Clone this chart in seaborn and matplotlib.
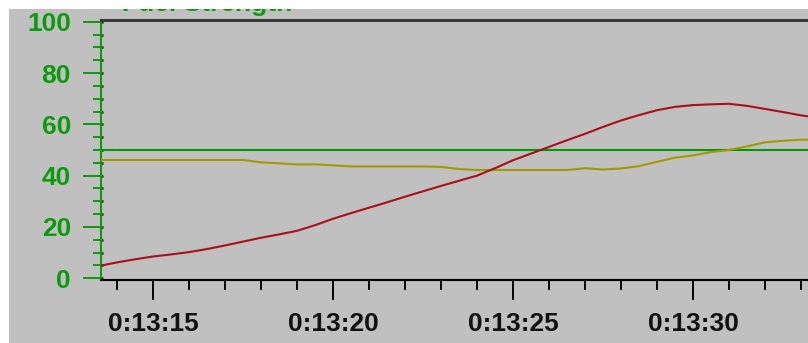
import matplotlib
matplotlib.use("Agg")
import matplotlib.pyplot as plt
from matplotlib.patches import Rectangle
from matplotlib.ticker import MultipleLocator, FuncFormatter
import pandas as pd
import seaborn as sns

# Elapsed time within the minute 0:13 (seconds)
time_s = [13.5, 14.0, 14.5, 15.0, 15.5, 16.0, 16.5, 17.0, 17.5, 18.0,
          18.5, 19.0, 19.5, 20.0, 20.5, 21.0, 21.5, 22.0, 22.5, 23.0,
          23.5, 24.0, 24.5, 25.0, 25.5, 26.0, 26.5, 27.0, 27.5, 28.0,
          28.5, 29.0, 29.5, 30.0, 30.5, 31.0, 31.5, 32.0, 32.5, 33.0, 33.5]

# Process value (red trace)
process_value = [4.8, 6.2, 7.4, 8.5, 9.3, 10.2, 11.4, 12.8, 14.3, 15.8,
                 17.1, 18.5, 20.7, 23.2, 25.4, 27.5, 29.6, 31.8, 33.9, 36.0,
                 38.0, 40.0, 42.9, 46.0, 48.6, 51.2, 53.8, 56.3, 59.0, 61.5,
                 63.6, 65.5, 66.8, 67.5, 67.8, 68.0, 67.2, 66.0, 64.8, 63.5, 62.5]

# Controller output (olive trace)
controller_output = [46.1, 46.1, 46.1, 46.1, 46.1, 46.1, 46.1, 46.1, 46.1, 45.2,
                     44.8, 44.4, 44.4, 44.0, 43.6, 43.6, 43.6, 43.6, 43.6, 43.4,
                     42.6, 42.2, 42.2, 42.2, 42.2, 42.2, 42.2, 42.9, 42.4, 42.8,
                     43.7, 45.4, 47.0, 47.9, 49.2, 50.0, 51.4, 53.0, 53.6, 54.0, 54.0]

# Setpoint (green line)
setpoint_level = 50

y_major_ticks = [0, 20, 40, 60, 80, 100]
chart_title = "Fuel Strength"

df = pd.DataFrame({"t": time_s, "pv": process_value, "out": controller_output})

sns.set_style("white")
plt.rcParams["font.family"] = ["Liberation Sans", "DejaVu Sans"]
plt.rcParams["font.weight"] = "bold"

GRAY = "#C0C0C0"
GREEN = "#0E9A0E"
LINE_GREEN = "#009A00"
OLIVE = "#A09A00"
RED = "#A8101C"

W, H = 808, 343
fig = plt.figure(figsize=(W / 100, H / 100), dpi=100, facecolor="white")

# Gray panel behind the chart
fig.patches.append(Rectangle((9 / W, 0), 1, (H - 9) / H, transform=fig.transFigure,
                             facecolor=GRAY, edgecolor="none", zorder=-5))

ax = fig.add_axes([101 / W, (H - 280) / H, (W - 101) / W, 260 / H])
ax.set_facecolor(GRAY)

ax.axhline(setpoint_level, color=LINE_GREEN, lw=1.5, zorder=2)
sns.lineplot(data=df, x="t", y="out", ax=ax, color=OLIVE, lw=1.5, zorder=3)
sns.lineplot(data=df, x="t", y="pv", ax=ax, color=RED, lw=1.5, zorder=4)

x_left = 13.556
ax.set_xlim(x_left, x_left + (W - 101) / 36)
ax.set_ylim(-0.66, 100.66)
ax.set_xlabel("")
ax.set_ylabel("")

ax.set_yticks(y_major_ticks)
ax.yaxis.set_minor_locator(MultipleLocator(5))
ax.xaxis.set_major_locator(MultipleLocator(5))
ax.xaxis.set_minor_locator(MultipleLocator(1))


def hms(v, pos=None):
    total = int(round(13 * 60 + v))
    return f"{total // 3600}:{(total % 3600) // 60:02d}:{total % 60:02d}"


ax.xaxis.set_major_formatter(FuncFormatter(hms))

ax.tick_params(axis="y", which="major", direction="out", length=13, width=1.4,
               color=GREEN, labelcolor=GREEN, labelsize=19, pad=8.6, left=True)
ax.tick_params(axis="y", which="minor", direction="out", length=5.8, width=1.4,
               color=GREEN, left=True)
ax.tick_params(axis="x", which="major", direction="out", length=14.4, width=1.4,
               color="black", labelcolor="#111111", labelsize=19, pad=8.6, bottom=True)
ax.tick_params(axis="x", which="minor", direction="out", length=7.2, width=1.4,
               color="black", bottom=True)

ax.spines["right"].set_visible(False)
ax.spines["left"].set_color(GREEN)
ax.spines["left"].set_linewidth(1.5)
ax.spines["bottom"].set_color("black")
ax.spines["bottom"].set_linewidth(1.5)
ax.spines["top"].set_color("#383838")
ax.spines["top"].set_linewidth(2.2)

# Short dark inner ticks along the value axis
sec = ax.secondary_yaxis("left")
sec.set_yticks(y_major_ticks)
sec.yaxis.set_minor_locator(MultipleLocator(5))
sec.tick_params(which="both", direction="in", length=1.6, width=1.8,
                color="#202020", labelleft=False)
sec.spines["left"].set_visible(False)

# Chart caption, partly hidden under the frame's top margin
fig.text(122 / W, 1 - 11.5 / H, chart_title, color=GREEN, fontsize=19,
         fontweight="bold", va="baseline", ha="left", zorder=3)
fig.patches.append(Rectangle((0, 1 - 9 / H), 1, 9 / H, transform=fig.transFigure,
                             facecolor="white", edgecolor="none", zorder=10))
fig.patches.append(Rectangle((0, 0), 9 / W, 1, transform=fig.transFigure,
                             facecolor="white", edgecolor="none", zorder=10))

fig.savefig("out.png", dpi=100, facecolor="white")
